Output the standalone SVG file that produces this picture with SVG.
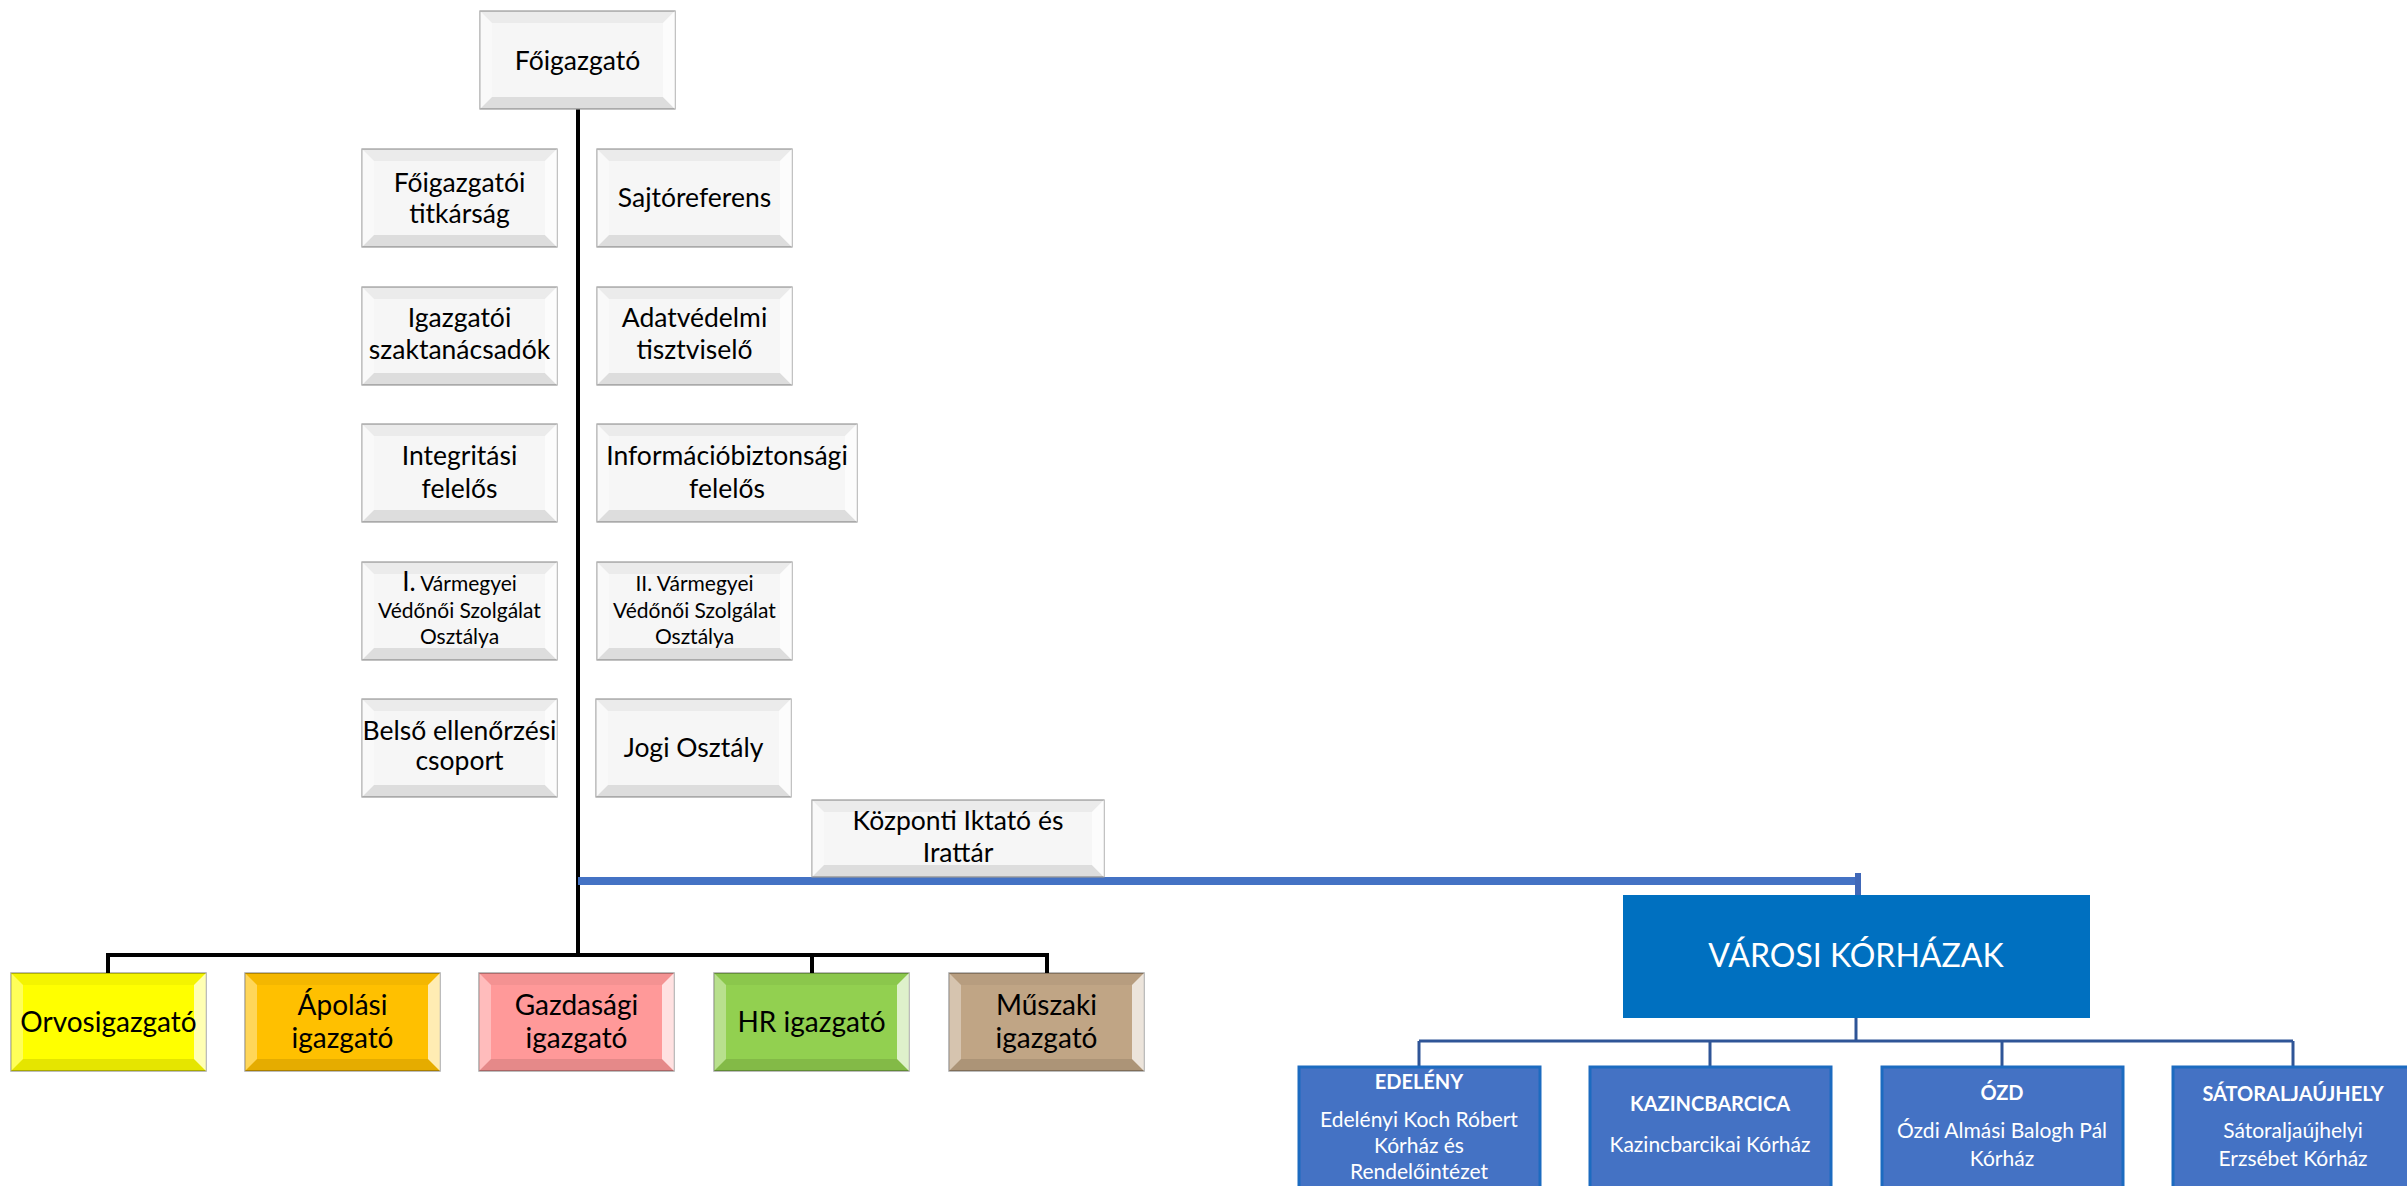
<svg xmlns="http://www.w3.org/2000/svg" width="2407" height="1186" viewBox="0 0 2407 1186">
<style>
  text { font-family: Lato, "Liberation Sans", sans-serif; text-anchor: middle; fill: #000; }
  .t25 { font-size: 26.5px; }
  .t28 { font-size: 28px; }
  .t20 { font-size: 21px; }
  .gb { fill: #f6f6f6; stroke: #9a9a9a; stroke-width: 1.2; }
  .bt { fill: #000; fill-opacity: 0.045; }
  .bb { fill: #000; fill-opacity: 0.1; }
  .bl { fill: #fff; fill-opacity: 0.35; }
  .br { fill: #fff; fill-opacity: 0.7; }
  .cb { stroke: #000; stroke-opacity: 0.35; stroke-width: 1.5; }
  .blk { stroke: #000; stroke-width: 4; fill: none; }
  .bline { stroke: #2F5597; stroke-width: 3; fill: none; }
  .child { fill: #4472C4; stroke: #1C6BC0; stroke-width: 3; }
  .wh { fill: #fff; }
  .hd { font-size: 20px; font-weight: bold; fill: #fff; }
  .ct { font-size: 21px; fill: #fff; }
</style>
<defs>
  <g id="bev">
    <polygon class="bt" points="0,0 195,0 183,12 12,12"/>
    <polygon class="bb" points="0,98 12,86 183,86 195,98"/>
    <polygon class="bl" points="0,0 12,12 12,86 0,98"/>
    <polygon class="br" points="195,0 195,98 183,86 183,12"/>
  </g>
</defs>

<g id="connectors">
  <line class="blk" x1="578" y1="109" x2="578" y2="955"/>
  <polyline class="blk" points="108,973 108,955 1047,955 1047,973"/>
  <line class="blk" x1="812" y1="955" x2="812" y2="973"/>
  <line x1="578" y1="881" x2="1861" y2="881" stroke="#4472C4" stroke-width="8"/>
  <line x1="1858" y1="873" x2="1858" y2="906" stroke="#4068B8" stroke-width="6"/>
  <line class="bline" x1="1856" y1="1018" x2="1856" y2="1041"/>
  <line class="bline" x1="1419" y1="1041" x2="2293" y2="1041"/>
  <line class="bline" x1="1419" y1="1041" x2="1419" y2="1067"/>
  <line class="bline" x1="1710" y1="1041" x2="1710" y2="1067"/>
  <line class="bline" x1="2002" y1="1041" x2="2002" y2="1067"/>
  <line class="bline" x1="2293" y1="1041" x2="2293" y2="1067"/>
</g>

<g id="foigazgato" transform="translate(480,11)">
  <rect class="gb" width="195" height="98"/><use href="#bev"/>
  <text class="t25" x="97.5" y="59">Főigazgató</text>
</g>
<g id="titkarsag" transform="translate(362,149)">
  <rect class="gb" width="195" height="98"/><use href="#bev"/>
  <text class="t25" x="97.5" y="43">Főigazgatói</text>
  <text class="t25" x="97.5" y="74">titkárság</text>
</g>
<g id="sajto" transform="translate(597,149)">
  <rect class="gb" width="195" height="98"/><use href="#bev"/>
  <text class="t25" x="97.5" y="58">Sajtóreferens</text>
</g>
<g id="szaktanacsadok" transform="translate(362,287)">
  <rect class="gb" width="195" height="98"/><use href="#bev"/>
  <text class="t25" x="97.5" y="40">Igazgatói</text>
  <text class="t25" x="97.5" y="72">szaktanácsadók</text>
</g>
<g id="adatvedelmi" transform="translate(597,287)">
  <rect class="gb" width="195" height="98"/><use href="#bev"/>
  <text class="t25" x="97.5" y="40">Adatvédelmi</text>
  <text class="t25" x="97.5" y="72">tisztviselő</text>
</g>
<g id="integritasi" transform="translate(362,424)">
  <rect class="gb" width="195" height="98"/><use href="#bev"/>
  <text class="t25" x="97.5" y="41">Integritási</text>
  <text class="t25" x="97.5" y="74">felelős</text>
</g>
<g id="infobizt" transform="translate(597,424)">
  <rect class="gb" width="260" height="98"/>
  <polygon class="bt" points="0,0 260,0 248,12 12,12"/>
  <polygon class="bb" points="0,98 12,86 248,86 260,98"/>
  <polygon class="bl" points="0,0 12,12 12,86 0,98"/>
  <polygon class="br" points="260,0 260,98 248,86 248,12"/>
  <text class="t25" x="130" y="41">Információbiztonsági</text>
  <text class="t25" x="130" y="74">felelős</text>
</g>
<g id="vedonoi1" transform="translate(362,562)">
  <rect class="gb" width="195" height="98"/><use href="#bev"/>
  <text class="t20" x="97.5" y="29"><tspan font-size="26">I.</tspan> Vármegyei</text>
  <text class="t20" x="97.5" y="56">Védőnői Szolgálat</text>
  <text class="t20" x="97.5" y="82">Osztálya</text>
</g>
<g id="vedonoi2" transform="translate(597,562)">
  <rect class="gb" width="195" height="98"/><use href="#bev"/>
  <text class="t20" x="97.5" y="29">II. Vármegyei</text>
  <text class="t20" x="97.5" y="56">Védőnői Szolgálat</text>
  <text class="t20" x="97.5" y="82">Osztálya</text>
</g>
<g id="belso" transform="translate(362,699)">
  <rect class="gb" width="195" height="98"/><use href="#bev"/>
  <text class="t25" x="97.5" y="41">Belső ellenőrzési</text>
  <text class="t25" x="97.5" y="71">csoport</text>
</g>
<g id="jogi" transform="translate(596,699)">
  <rect class="gb" width="195" height="98"/><use href="#bev"/>
  <text class="t25" x="97.5" y="58">Jogi Osztály</text>
</g>
<g id="kozponti" transform="translate(812,800)">
  <rect class="gb" width="292" height="77"/>
  <polygon class="bt" points="0,0 292,0 280,12 12,12"/>
  <polygon class="bb" points="0,77 12,65 280,65 292,77"/>
  <polygon class="bl" points="0,0 12,12 12,65 0,77"/>
  <polygon class="br" points="292,0 292,77 280,65 280,12"/>
  <text class="t25" x="146" y="30">Központi Iktató és</text>
  <text class="t25" x="146" y="62">Irattár</text>
</g>

<g id="orvos" transform="translate(11,973)">
  <rect class="cb" width="195" height="98" fill="#FFFF00"/><use href="#bev"/>
  <text class="t28" x="97.5" y="59">Orvosigazgató</text>
</g>
<g id="apolasi" transform="translate(245,973)">
  <rect class="cb" width="195" height="98" fill="#FFC000"/><use href="#bev"/>
  <text class="t28" x="97.5" y="42">Ápolási</text>
  <text class="t28" x="97.5" y="75">igazgató</text>
</g>
<g id="gazdasagi" transform="translate(479,973)">
  <rect class="cb" width="195" height="98" fill="#FF9999"/><use href="#bev"/>
  <text class="t28" x="97.5" y="42">Gazdasági</text>
  <text class="t28" x="97.5" y="75">igazgató</text>
</g>
<g id="hr" transform="translate(714,973)">
  <rect class="cb" width="195" height="98" fill="#92D050"/><use href="#bev"/>
  <text class="t28" x="97.5" y="59">HR igazgató</text>
</g>
<g id="muszaki" transform="translate(949,973)">
  <rect class="cb" width="195" height="98" fill="#C0A585"/><use href="#bev"/>
  <text class="t28" x="97.5" y="42">Műszaki</text>
  <text class="t28" x="97.5" y="75">igazgató</text>
</g>

<g id="varosi">
  <rect x="1623" y="895" width="467" height="123" fill="#0070C0"/>
  <text class="wh" x="1856" y="967" font-size="32">VÁROSI KÓRHÁZAK</text>
</g>
<g id="edeleny">
  <rect class="child" x="1299" y="1067" width="241" height="130"/>
  <text class="hd" x="1419" y="1089">EDELÉNY</text>
  <text class="ct" x="1419" y="1127">Edelényi Koch Róbert</text>
  <text class="ct" x="1419" y="1153">Kórház és</text>
  <text class="ct" x="1419" y="1179">Rendelőintézet</text>
</g>
<g id="kazincbarcika">
  <rect class="child" x="1590" y="1067" width="241" height="130"/>
  <text class="hd" x="1710" y="1111">KAZINCBARCICA</text>
  <text class="ct" x="1710" y="1152">Kazincbarcikai Kórház</text>
</g>
<g id="ozd">
  <rect class="child" x="1882" y="1067" width="241" height="130"/>
  <text class="hd" x="2002" y="1100">ÓZD</text>
  <text class="ct" x="2002" y="1138">Ózdi Almási Balogh Pál</text>
  <text class="ct" x="2002" y="1166">Kórház</text>
</g>
<g id="satoraljaujhely">
  <rect class="child" x="2173" y="1067" width="241" height="130"/>
  <text class="hd" x="2293" y="1101">SÁTORALJAÚJHELY</text>
  <text class="ct" x="2293" y="1138">Sátoraljaújhelyi</text>
  <text class="ct" x="2293" y="1166">Erzsébet Kórház</text>
</g>
</svg>
